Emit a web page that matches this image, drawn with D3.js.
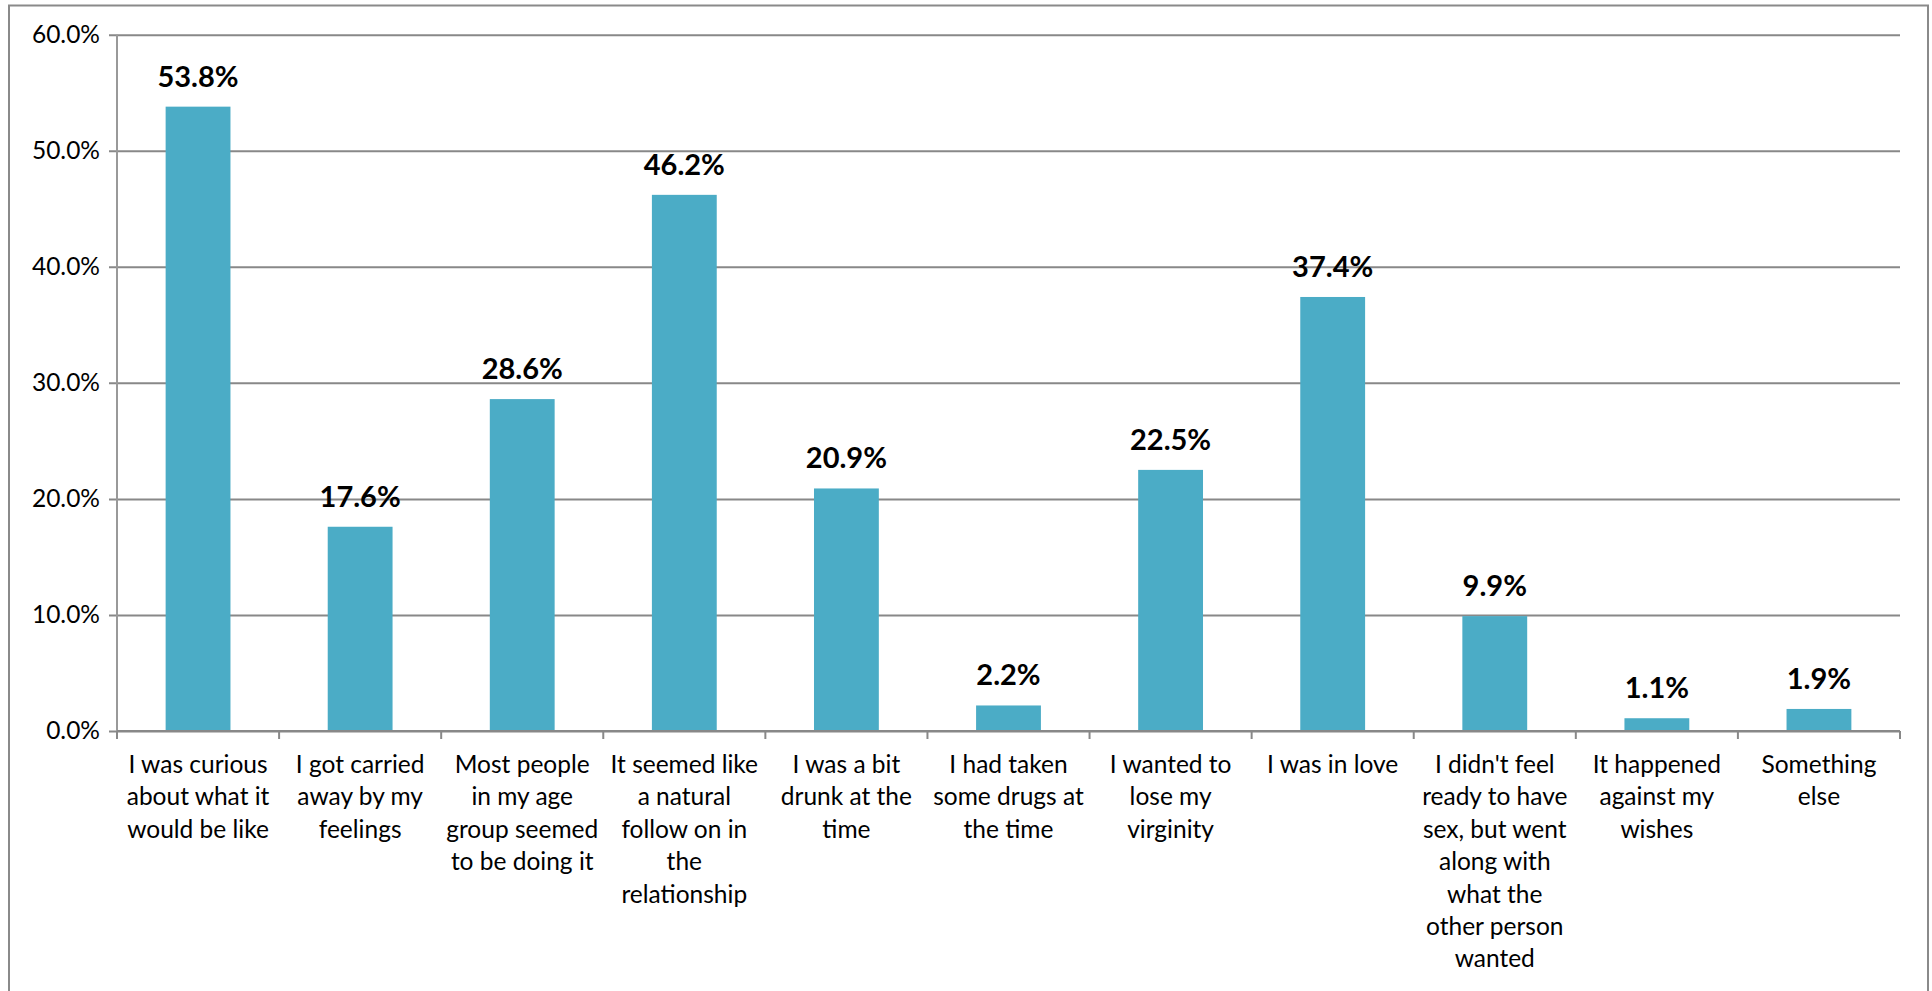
<!DOCTYPE html>
<html>
<head>
<meta charset="utf-8">
<script src="https://cdn.jsdelivr.net/npm/d3@7"></script>
<style>
  html, body { margin: 0; padding: 0; background: #fff; }
  svg { display: block; }
  text { font-family: Lato, "Open Sans", sans-serif; fill: #000; }
</style>
</head>
<body>
<svg id="chart" width="1932" height="991"></svg>
<script>
// Reasons given for first sexual experience (% of respondents)
const categories = [
  ["I was curious", "about what it", "would be like"],
  ["I got carried", "away by my", "feelings"],
  ["Most people", "in my age", "group seemed", "to be doing it"],
  ["It seemed like", "a natural", "follow on in", "the", "relationship"],
  ["I was a bit", "drunk at the", "time"],
  ["I had taken", "some drugs at", "the time"],
  ["I wanted to", "lose my", "virginity"],
  ["I was in love"],
  ["I didn't feel", "ready to have", "sex, but went", "along with", "what the", "other person", "wanted"],
  ["It happened", "against my", "wishes"],
  ["Something", "else"]
];
const values = [53.8, 17.6, 28.6, 46.2, 20.9, 2.2, 22.5, 37.4, 9.9, 1.1, 1.9];
const yTicks = [0, 10, 20, 30, 40, 50, 60];

const svg = d3.select("#chart");
const plot = { left: 117, right: 1900, top: 34.7, bottom: 731 };

const keys = categories.map((c, i) => i);
const x = d3.scaleBand()
  .domain(keys)
  .range([plot.left, plot.right])
  .paddingInner(0.6)
  .paddingOuter(0.3);
const step = (plot.right - plot.left) / categories.length;

const y = d3.scaleLinear().domain([0, 60]).range([plot.bottom, plot.top]);

// outer chart frame
svg.append("rect")
  .attr("x", 9).attr("y", 5.5)
  .attr("width", 1919).attr("height", 1000)
  .attr("fill", "none").attr("stroke", "#8a8a8a").attr("stroke-width", 2);

// horizontal gridlines with y labels
const yAxis = d3.axisLeft(y)
  .tickValues(yTicks)
  .tickSize(-(plot.right - plot.left))
  .tickPadding(17)
  .tickFormat(d => d.toFixed(1) + "%");
const gy = svg.append("g")
  .attr("transform", `translate(${plot.left},0)`)
  .call(yAxis);
gy.select(".domain").remove();
gy.selectAll(".tick line")
  .attr("x1", -8)
  .attr("stroke", "#888").attr("stroke-width", 2);
gy.selectAll(".tick text")
  .attr("font-size", 24.5)
  .attr("font-family", "Lato, sans-serif")
  .attr("fill", "#000");

// vertical axis line
svg.append("line")
  .attr("x1", plot.left).attr("x2", plot.left)
  .attr("y1", plot.top).attr("y2", plot.bottom + 8)
  .attr("stroke", "#999").attr("stroke-width", 2);

// bars
svg.append("g").selectAll("rect")
  .data(values)
  .join("rect")
  .attr("x", (d, i) => x(i))
  .attr("width", x.bandwidth())
  .attr("y", d => y(d))
  .attr("height", d => y(0) - y(d))
  .attr("fill", "#4BACC6");

// category axis with boundary tick marks
const boundaries = d3.range(categories.length + 1);
svg.append("line")
  .attr("x1", plot.left).attr("x2", plot.right)
  .attr("y1", plot.bottom).attr("y2", plot.bottom)
  .attr("stroke", "#888").attr("stroke-width", 2);
svg.append("g").selectAll("line")
  .data(boundaries)
  .join("line")
  .attr("x1", i => plot.left + i * step)
  .attr("x2", i => plot.left + i * step)
  .attr("y1", plot.bottom)
  .attr("y2", plot.bottom + 8)
  .attr("stroke", "#888").attr("stroke-width", 2);

// value labels
svg.append("g").selectAll("text")
  .data(values)
  .join("text")
  .attr("x", (d, i) => x(i) + x.bandwidth() / 2)
  .attr("y", d => y(d) - 20)
  .attr("text-anchor", "middle")
  .attr("font-size", 29)
  .attr("font-weight", "bold")
  .text(d => d.toFixed(1) + "%");

// wrapped category labels
const lab = svg.append("g").selectAll("text")
  .data(categories)
  .join("text")
  .attr("x", (d, i) => x(i) + x.bandwidth() / 2)
  .attr("y", plot.bottom + 42)
  .attr("text-anchor", "middle")
  .attr("font-size", 24.5);
lab.selectAll("tspan")
  .data(d => d)
  .join("tspan")
  .attr("x", function () { return this.parentNode.getAttribute("x"); })
  .attr("dy", (d, j) => j === 0 ? 0 : 32.4)
  .text(d => d);
</script>
</body>
</html>
